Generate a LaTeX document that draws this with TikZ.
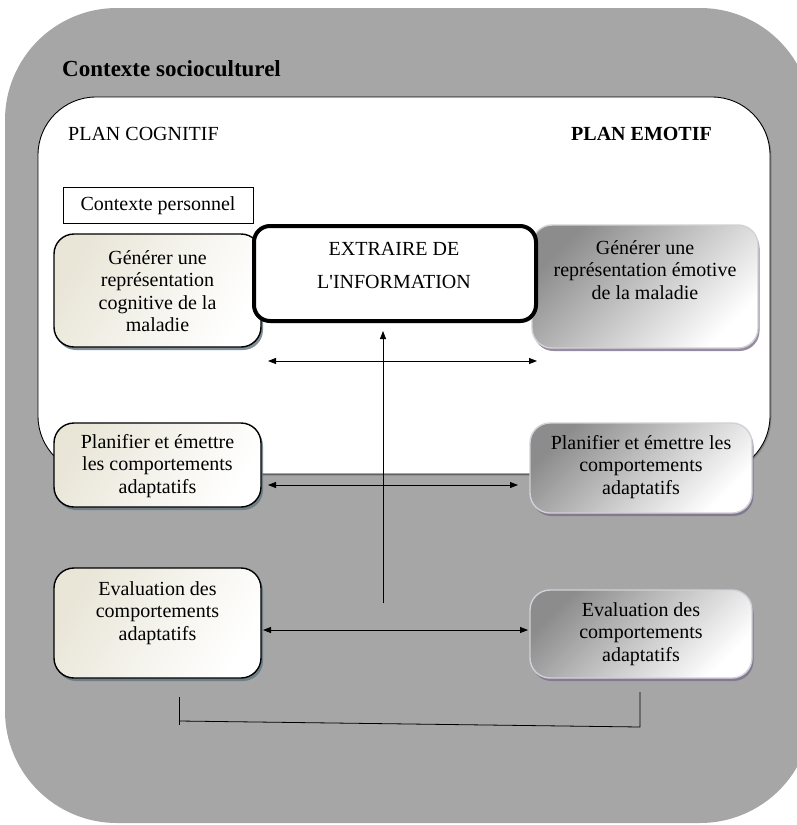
\documentclass[tikz,border=0pt]{standalone}
\usepackage{fontspec}
\setmainfont{Liberation Serif}
\newfontfamily\plainserif{Liberation Serif}
\usetikzlibrary{arrows.meta,shadows,calc}
\definecolor{outergray}{HTML}{A6A6A6}
\definecolor{beige}{HTML}{E9E6D8}
\definecolor{blueshadow}{HTML}{5F7480}
\definecolor{purpshadow}{HTML}{7A7088}
\definecolor{greyedge}{HTML}{D4D0D8}
\tikzset{
  txt/.style={font=\fontsize{20}{22.5}\selectfont, align=center, inner sep=0pt},
  cogbox/.style={draw=black, line width=1.4pt, rounded corners=20pt,
     left color=beige, right color=white, shading angle=60,
     drop shadow={shadow xshift=2pt, shadow yshift=-3pt, fill=blueshadow, opacity=0.8}},
  emobox/.style={draw=greyedge, line width=1.4pt, rounded corners=20pt,
     left color=black!45, right color=white, shading angle=45,
     drop shadow={shadow xshift=1.5pt, shadow yshift=-3pt, fill=purpshadow, opacity=0.8}},
  dbl/.style={line width=0.8pt, {Triangle[length=8pt,width=6pt]}-{Triangle[length=8pt,width=6pt]}},
  uparr/.style={line width=0.8pt, -{Triangle[length=8pt,width=6pt]}},
  plain/.style={line width=0.8pt},
}
\begin{document}
\begin{tikzpicture}[x=1pt,y=-1pt]
\useasboundingbox (0,0) rectangle (797,825);
\fill[white] (0,0) rectangle (797,825);
% outer sociocultural context
\fill[outergray, rounded corners=112pt] (5,8) rectangle (812,823);
\node[font=\fontsize{23}{26}\selectfont\bfseries, anchor=west, inner sep=0pt] (socio) at (62,69) {Contexte socioculturel};
% inner white panel
\draw[fill=white, line width=0.9pt, rounded corners=58pt,
      drop shadow={shadow xshift=1.5pt, shadow yshift=-1.5pt, fill=black!55, opacity=0.6}]
      (38,97) rectangle (770,474);
\node[txt, anchor=west] (cog) at (68,134) {PLAN COGNITIF};
\node[txt, anchor=east, font=\fontsize{20}{22.5}\selectfont\bfseries] (emo) at (712,134) {PLAN EMOTIF};
% contexte personnel
\draw[fill=white, line width=0.6pt] (63,187) rectangle (253,223);
\node[txt] (cp) at (158,206) {Contexte personnel};
% boxes
\path[cogbox] (54,234) rectangle (261,347);
\node[txt] (gc) at (157.5,291) {Générer une\\représentation\\cognitive de la\\maladie};
\path[emobox] (532,225) rectangle (758,348);
\node[txt] (ge) at (645,270) {Générer une\\représentation émotive\\de la maladie};
\draw[line width=4pt, fill=white, rounded corners=16pt,
      drop shadow={shadow xshift=1.5pt, shadow yshift=-2pt, fill=green!30!black!40, opacity=0.7}]
      (254,226) rectangle (536,321);
\node[txt, font=\plainserif\fontsize{20}{33}\selectfont] (ex) at (394,265) {EXTRAIRE DE\\L'INFORMATION};
\coordinate (exs) at (383,323);
\path[cogbox] (54,423) rectangle (261,507);
\node[txt] (pc) at (157.5,466) {Planifier et émettre\\les comportements\\adaptatifs};
\path[emobox] (530,423) rectangle (752,513);
\node[txt] (pe) at (641,467) {Planifier et émettre les\\comportements\\adaptatifs};
\path[cogbox] (54,568) rectangle (261,678);
\node[txt] (ec) at (157.5,613) {Evaluation des\\comportements\\adaptatifs};
\path[emobox] (530,590) rectangle (752,678);
\node[txt] (ee) at (641,634) {Evaluation des\\comportements\\adaptatifs};
% connectors
\coordinate (a1l) at (268,361);
\coordinate (a1r) at (537,361);
\draw[dbl] (a1l) -- (a1r);
\coordinate (vb) at (383,603);
\draw[uparr] (vb) -- ($(exs)+(0,8)$);
\coordinate (a2l) at (268,485);
\coordinate (a2r) at (518,485);
\draw[dbl] (a2l) -- (a2r);
\coordinate (a3l) at (263,630);
\coordinate (a3r) at (528,630);
\draw[dbl] (a3l) -- (a3r);
\coordinate (b1) at (179,697);
\coordinate (b2) at (179,725);
\coordinate (b3) at (179,721);
\coordinate (b4) at (640,727);
\coordinate (b5) at (640,692);
\draw[plain] (b1) -- (b2);
\draw[plain] (b3) -- (b4) -- (b5);
\end{tikzpicture}
\end{document}
